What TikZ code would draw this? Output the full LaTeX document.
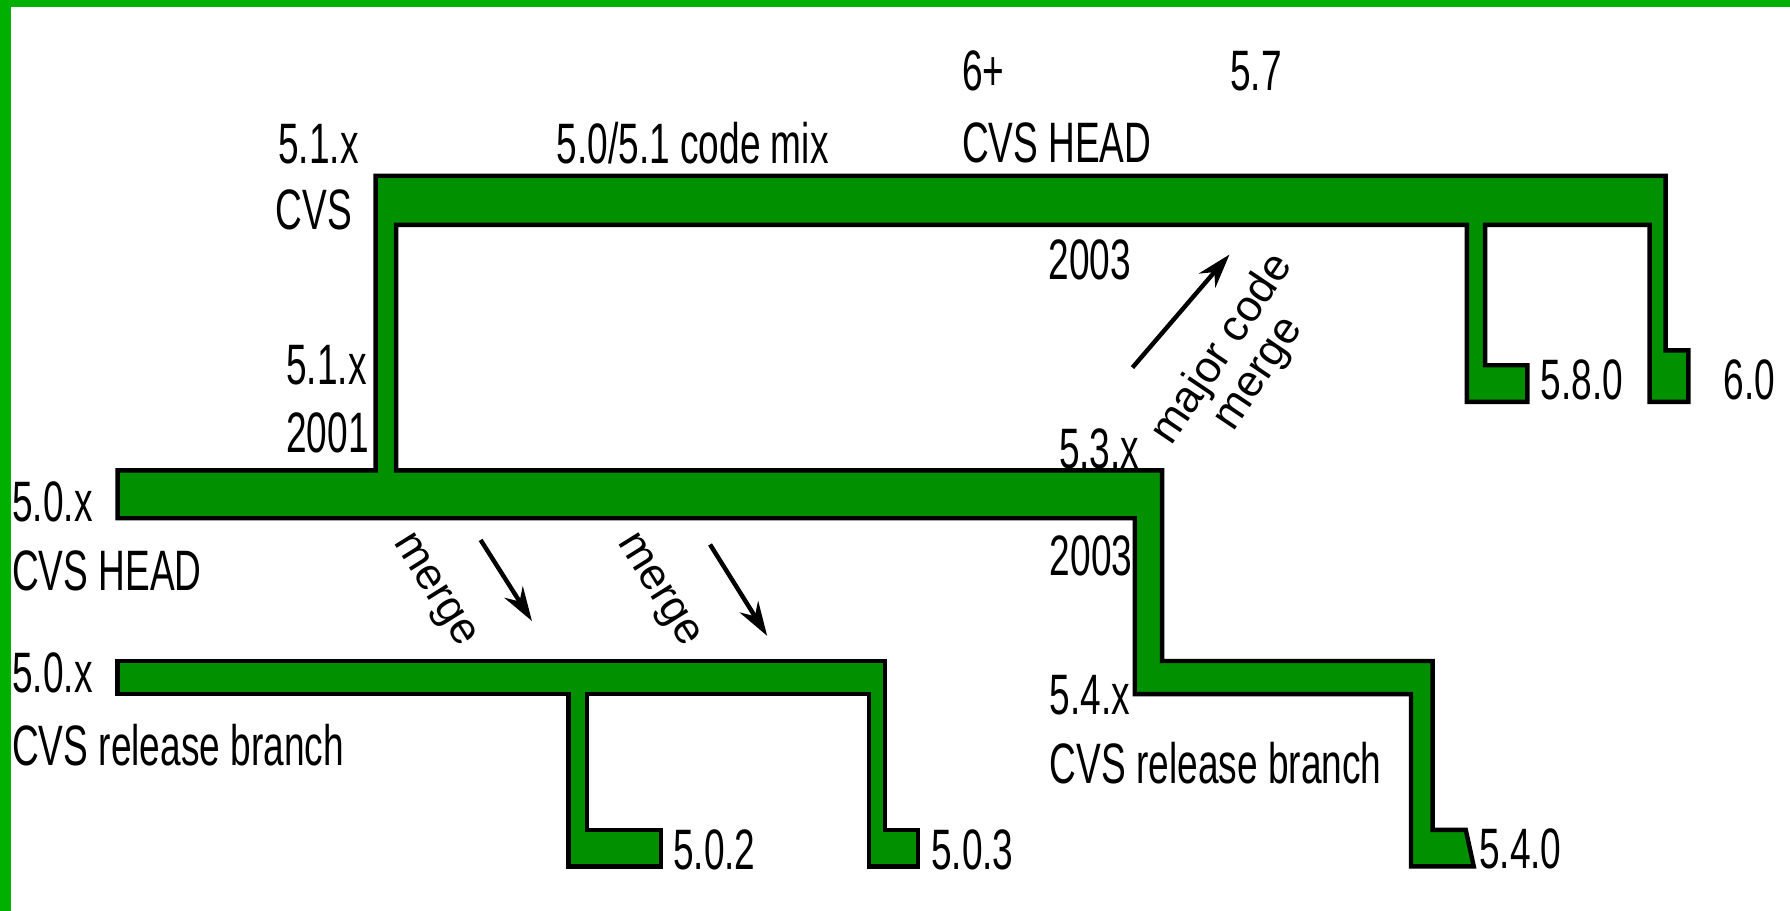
\documentclass[tikz,border=0pt]{standalone}
\usepackage{fontspec}
\setmainfont[FakeStretch=0.65]{Liberation Sans}
\newfontfamily\ruotafont{Liberation Sans}
\usetikzlibrary{arrows.meta}

\definecolor{verdecornice}{RGB}{0,176,0}
\definecolor{verderamo}{RGB}{0,144,0}

\begin{document}
\begin{tikzpicture}[
  x=0.01cm, y=-0.01cm,
  ramo/.style={fill=verderamo, draw=black, line width=1.1pt, line join=miter},
  etichetta/.style={anchor=base west, inner sep=0pt, font=\fontsize{14.2}{17}\selectfont},
  nota/.style={inner sep=0pt, align=center, font=\ruotafont\fontsize{11}{10.8}\selectfont},
  freccia/.style={draw=black, line width=1.1pt, -{Stealth[length=0.3cm, width=0.19cm]}}
]

\useasboundingbox (0,0) rectangle (1568,798);
\fill[white] (0,0) rectangle (1568,798);

%--------------------------------------------------------------
% Etichette delle versioni
%--------------------------------------------------------------
\node[etichetta] (v51a)   at (243,143) {5.1.x};
\node[etichetta] (cvs51)  at (241,201) {CVS};
\node[etichetta] (mix)    at (487,143) {5.0/5.1 code mix};
\node[etichetta] (v51b)   at (250,337) {5.1.x};
\node[etichetta] (a2001)  at (250,396) {2001};
\node[etichetta] (v6p)    at (842,79)  {6+};
\node[etichetta] (v57)    at (1077,79) {5.7};
\node[etichetta] (headsu) at (842,142) {CVS HEAD};
\node[etichetta] (a2003a) at (918,245) {2003};
\node[etichetta] (v53)    at (927,410) {5.3.x};
\node[etichetta] (v580)   at (1349,350) {5.8.0};
\node[etichetta] (v60)    at (1509,350) {6.0};
\node[etichetta] (v50a)   at (10,457)  {5.0.x};
\node[etichetta] (headgiu) at (10,517) {CVS HEAD};
\node[etichetta] (a2003b) at (919,504) {2003};
\node[etichetta] (v50b)   at (10,607)  {5.0.x};
\node[etichetta] (rel50)  at (10,671)  {CVS release branch};
\node[etichetta] (v54)    at (919,626) {5.4.x};
\node[etichetta] (rel54)  at (919,686) {CVS release branch};
\node[etichetta] (v502)   at (589,762) {5.0.2};
\node[etichetta] (v503)   at (815,762) {5.0.3};
\node[etichetta] (v540)   at (1295,761) {5.4.0};

%--------------------------------------------------------------
% Ramo principale: 5.1 / HEAD, 5.0 HEAD e 5.4
%--------------------------------------------------------------
\draw[ramo] (103,412) -- (329,412) -- (329,154) -- (1459,154) -- (1459,307)
  -- (1479,307) -- (1479,352) -- (1445,352) -- (1445,197)
  -- (1301,197) -- (1301,320) -- (1338,320) -- (1338,352) -- (1285,352) -- (1285,197)
  -- (347,197) -- (347,412) -- (1018,412) -- (1018,579) -- (1255,579) -- (1255,727)
  -- (1284,727) -- (1291,759) -- (1236,759) -- (1236,608) -- (994,608) -- (994,454)
  -- (103,454) -- cycle;

%--------------------------------------------------------------
% Ramo di rilascio 5.0
%--------------------------------------------------------------
\draw[ramo] (103,579) -- (775,579) -- (775,727) -- (804,727) -- (804,759)
  -- (761,759) -- (761,608) -- (514,608) -- (514,727) -- (579,727) -- (579,759)
  -- (498,759) -- (498,608) -- (103,608) -- cycle;

%--------------------------------------------------------------
% Merge
%--------------------------------------------------------------
\node[nota, rotate=-58] (merge1) at (379,518) {merge};
\node[nota, rotate=-58] (merge2) at (575,518) {merge};
\node[nota, rotate=56] (merge3) at (1087,317) {major code\\merge};
\coordinate (m1a) at (421,473);
\coordinate (m1b) at (466,544);
\coordinate (m2a) at (622,477);
\coordinate (m2b) at (672,557);
\coordinate (m3a) at (992,322);
\coordinate (m3b) at (1077,223);
\draw[freccia] (m1a) -- (m1b);
\draw[freccia] (m2a) -- (m2b);
\draw[freccia] (m3a) -- (m3b);

%--------------------------------------------------------------
% Cornice
%--------------------------------------------------------------
\fill[verdecornice] (0,0) rectangle (1568,6);
\fill[verdecornice] (0,0) rectangle (10,798);

\end{tikzpicture}
\end{document}
